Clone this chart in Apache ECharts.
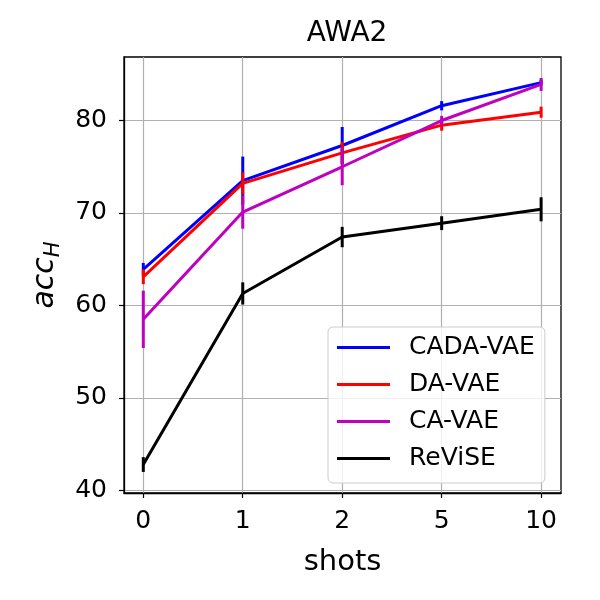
<!DOCTYPE html>
<html>
<head>
<meta charset="utf-8">
<script src="https://cdn.jsdelivr.net/npm/echarts@6/dist/echarts.min.js"></script>
<style>
  html, body { margin: 0; padding: 0; background: #fff; }
  #chart { width: 600px; height: 600px; }
</style>
</head>
<body>
<div id="chart"></div>
<script>
// shot counts on the x axis (equally spaced)
const shots = ['0', '1', '2', '5', '10'];
const shotPos = [0, 1, 2, 3, 4];
const yTicks = [40, 50, 60, 70, 80];

// mean acc_H and std for each method
const cadaVae = [63.9, 73.5, 77.3, 81.6, 84.1];
const cadaVaeErr = [0.7, 2.6, 2.0, 0.5, 0.3];
const daVae = [63.1, 73.2, 76.5, 79.5, 80.9];
const daVaeErr = [0.8, 1.2, 1.2, 0.6, 0.6];
const caVae = [58.5, 70.1, 75.0, 80.0, 83.9];
const caVaeErr = [3.1, 1.8, 2.0, 0.5, 0.7];
const revise = [42.8, 61.3, 67.4, 68.9, 70.4];
const reviseErr = [0.8, 1.2, 1.1, 0.75, 1.3];

const font = 'DejaVu Sans';

function lineSeries(name, color, values, z) {
    return {
        type: 'line',
        name: name,
        data: values.map((v, i) => [shotPos[i], v]),
        symbol: 'none',
        lineStyle: { color: color, width: 3 },
        itemStyle: { color: color },
        animation: false,
        z: z
    };
}

// vertical error bars without caps
function errorBars(name, color, values, errs, z) {
    return {
        type: 'custom',
        name: name + ' std',
        silent: true,
        animation: false,
        z: z,
        data: values.map((v, i) => [shotPos[i], v - errs[i], v + errs[i]]),
        encode: { x: 0, y: [1, 2] },
        renderItem: function (params, api) {
            const lo = api.coord([api.value(0), api.value(1)]);
            const hi = api.coord([api.value(0), api.value(2)]);
            return {
                type: 'line',
                shape: { x1: lo[0], y1: lo[1], x2: hi[0], y2: hi[1] },
                style: { stroke: color, lineWidth: 3 }
            };
        }
    };
}

const myChart = echarts.init(document.getElementById('chart'));

myChart.setOption({
    backgroundColor: '#fff',
    title: {
        text: 'AWA2',
        left: 342,
        textAlign: 'center',
        top: 15,
        textStyle: { fontFamily: font, fontSize: 28, fontWeight: 'normal', color: '#000' }
    },
    grid: {
        left: 124, top: 57, right: 39, bottom: 107,
        show: true,
        borderColor: '#000',
        borderWidth: 1.3,
        backgroundColor: 'transparent'
    },
    legend: {
        data: ['CADA-VAE', 'DA-VAE', 'CA-VAE', 'ReViSE'],
        orient: 'vertical',
        left: 328,
        top: 327,
        icon: 'rect',
        itemWidth: 53,
        itemHeight: 3,
        itemGap: 12,
        padding: [8, 10, 12, 9],
        backgroundColor: 'rgba(255,255,255,0.8)',
        borderColor: '#cccccc',
        borderWidth: 1,
        borderRadius: 5,
        selectedMode: false,
        textStyle: { fontFamily: font, fontSize: 25, color: '#000', lineHeight: 25, padding: [0, 0, 0, 14] }
    },
    xAxis: {
        type: 'value',
        min: -0.194,
        max: 4.2,
        name: 'shots',
        nameLocation: 'middle',
        nameGap: 55,
        nameTextStyle: { fontFamily: font, fontSize: 29, color: '#000' },
        axisLine: { show: true, onZero: false, lineStyle: { color: '#000', width: 1.3 } },
        axisTick: { show: true, length: 5, customValues: shotPos, lineStyle: { color: '#000', width: 1.2 } },
        axisLabel: {
            customValues: shotPos,
            margin: 16,
            fontFamily: font, fontSize: 25, color: '#000',
            formatter: function (v) { return shots[Math.round(v)]; }
        },
        splitLine: { show: true, lineStyle: { color: '#b0b0b0', width: 1.2 } }
    },
    yAxis: {
        type: 'value',
        min: 39.72,
        max: 86.87,
        name: '{a|acc}{h|H}',
        nameLocation: 'middle',
        nameGap: 57,
        nameRotate: 90,
        nameTextStyle: {
            fontFamily: font, color: '#000',
            rich: {
                a: { fontFamily: font, fontStyle: 'italic', fontSize: 30, lineHeight: 38, verticalAlign: 'middle' },
                h: { fontFamily: font, fontStyle: 'italic', fontSize: 21, lineHeight: 38, verticalAlign: 'bottom' }
            }
        },
        axisLine: { show: true, onZero: false, lineStyle: { color: '#000', width: 1.3 } },
        axisTick: { show: true, length: 5, customValues: yTicks, lineStyle: { color: '#000', width: 1.2 } },
        axisLabel: {
            customValues: yTicks,
            margin: 17,
            fontFamily: font, fontSize: 25, color: '#000'
        },
        splitLine: { show: true, lineStyle: { color: '#b0b0b0', width: 1.2 } }
    },
    series: [
        lineSeries('CADA-VAE', '#0000ff', cadaVae, 3),
        errorBars('CADA-VAE', '#0000ff', cadaVae, cadaVaeErr, 3),
        lineSeries('DA-VAE', '#ff0000', daVae, 4),
        errorBars('DA-VAE', '#ff0000', daVae, daVaeErr, 4),
        lineSeries('CA-VAE', '#bf00bf', caVae, 5),
        errorBars('CA-VAE', '#bf00bf', caVae, caVaeErr, 5),
        lineSeries('ReViSE', '#000000', revise, 6),
        errorBars('ReViSE', '#000000', revise, reviseErr, 6)
    ]
});
</script>
</body>
</html>
